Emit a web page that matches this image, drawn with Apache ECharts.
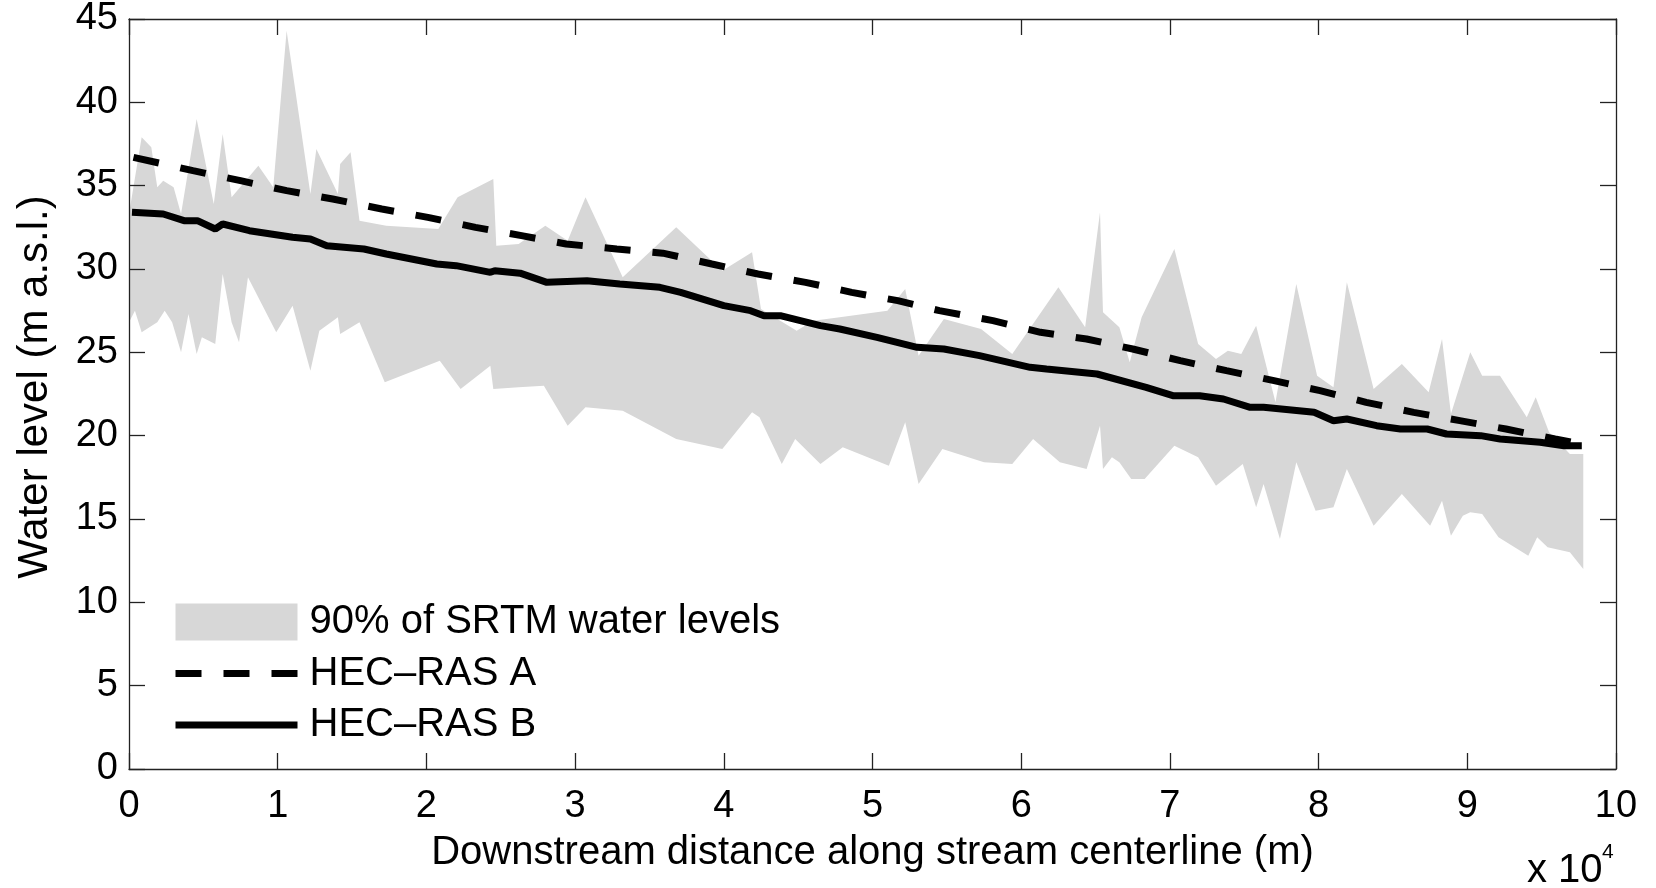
<!DOCTYPE html>
<html><head><meta charset="utf-8">
<script src="https://cdn.jsdelivr.net/npm/echarts@6/dist/echarts.min.js"></script>
<style>html,body{margin:0;padding:0;background:#fff}#c{width:1656px;height:888px}</style>
</head><body><div id="c"></div>
<script>
// distances in metres, water levels in m a.s.l.
const bandUpper = [[0,33.3],[850,37.9],[1500,37.3],[1900,34.9],[2300,35.3],[3000,34.9],[3500,33.3],[4550,39.0],[5700,33.9],[6300,38.1],[6900,34.3],[8700,36.2],[9700,34.9],[10600,44.3],[12200,34.5],[12600,37.2],[14050,34.5],[14200,36.3],[14900,37.0],[15500,32.9],[17300,32.6],[20800,32.4],[22100,34.3],[24500,35.4],[24700,31.4],[26200,31.5],[28000,32.6],[29500,31.7],[30700,34.3],[33200,29.5],[36800,32.5],[39900,29.9],[41900,31.0],[42500,27.6],[44900,26.3],[46000,26.9],[47800,27.1],[51000,27.5],[52200,28.8],[53100,24.8],[54800,27.0],[57300,26.4],[59400,24.9],[62500,28.9],[64300,26.5],[65300,33.4],[65500,27.4],[66600,26.5],[67300,24.4],[68100,27.1],[70300,31.2],[71900,25.5],[73100,24.6],[73900,25.1],[74800,24.9],[75800,26.6],[77100,22.0],[78500,29.1],[79900,23.6],[81000,22.9],[81900,29.2],[83700,22.8],[85600,24.3],[87400,22.6],[88300,25.8],[88900,21.3],[90200,25.0],[91000,23.6],[92200,23.6],[94000,21.1],[94600,22.3],[95500,20.2],[96900,18.9],[97800,18.9]];
const bandLower = [[0,26.8],[400,27.5],[850,26.2],[1900,26.8],[2400,27.5],[2900,26.8],[3500,25.0],[4000,27.3],[4550,24.9],[4900,25.9],[5800,25.5],[6300,29.7],[6900,26.8],[7400,25.6],[8000,29.5],[9900,26.2],[11000,27.8],[12200,23.9],[12800,26.3],[14050,27.1],[14200,26.1],[15500,26.8],[17200,23.2],[20900,24.5],[22300,22.8],[24300,24.2],[24500,22.8],[26200,22.9],[27900,23.0],[29500,20.6],[30700,21.7],[33200,21.5],[36800,19.8],[39900,19.2],[41900,21.4],[42400,21.1],[43900,18.3],[44800,19.8],[46500,18.3],[48000,19.3],[51100,18.2],[52200,20.8],[53100,17.1],[54700,19.2],[57500,18.4],[59400,18.3],[60800,19.8],[62600,18.4],[64400,18.0],[65300,20.6],[65500,18.0],[66100,18.7],[66600,18.4],[67400,17.4],[68300,17.4],[70300,19.4],[71900,18.7],[73100,17.0],[74900,18.3],[75800,15.7],[76300,17.1],[77400,13.8],[78500,18.4],[79800,15.5],[81000,15.7],[81900,18.0],[83700,14.6],[85600,16.5],[87500,14.6],[88300,16.1],[88900,14.0],[89700,15.2],[90200,15.4],[91000,15.3],[92100,13.9],[94100,12.8],[94700,13.9],[95400,13.3],[96900,13.0],[97800,12.0]];
const hecRasA = [[300,36.7],[4300,35.9],[7500,35.3],[10600,34.7],[13700,34.2],[17000,33.6],[20100,33.1],[23300,32.5],[26400,32.0],[29400,31.5],[32800,31.2],[35900,30.95],[39200,30.3],[42300,29.7],[45500,29.2],[48600,28.6],[51700,28.1],[54500,27.5],[58100,26.9],[61300,26.2],[64400,25.8],[67500,25.2],[70700,24.5],[73800,23.9],[77000,23.3],[80100,22.7],[83200,22.0],[86400,21.4],[89500,20.9],[92600,20.4],[95900,19.8],[97700,19.5]];
const hecRasB = [[200,33.4],[2300,33.3],[3700,32.9],[4600,32.9],[5800,32.4],[6300,32.7],[8100,32.3],[11000,31.9],[12200,31.8],[13300,31.4],[15800,31.2],[17300,30.9],[20700,30.3],[22000,30.2],[24300,29.8],[24600,29.9],[26300,29.75],[28100,29.2],[30800,29.3],[33000,29.1],[35700,28.9],[37100,28.6],[40000,27.8],[41800,27.5],[42700,27.2],[43800,27.2],[46500,26.6],[47800,26.4],[50300,25.9],[53000,25.3],[54800,25.2],[57200,24.8],[60600,24.1],[61700,24.0],[65100,23.7],[68400,22.9],[70200,22.4],[72000,22.4],[73600,22.2],[75400,21.7],[76300,21.7],[79700,21.4],[81000,20.9],[81900,21.0],[83900,20.6],[85500,20.4],[87300,20.4],[88600,20.1],[90900,20.0],[92200,19.8],[94900,19.6],[96500,19.4],[97700,19.4]];
const seriesNames = ['90% of SRTM water levels', 'HEC\u2013RAS A', 'HEC\u2013RAS B'];
const xAxisName = 'Downstream distance along stream centerline (m)';
const yAxisName = 'Water level (m a.s.l.)';
const xScaleText = 'x 10';
const xScaleExp = '4';
const xMin = 0, xMax = 100000, xStep = 10000;
const yMin = 0, yMax = 45, yStep = 5;

const FONT = '"Liberation Sans", Arial, Helvetica, sans-serif';
const AX = '#222';
const chart = echarts.init(document.getElementById('c'));

function xAx(pos, main) {
  return {
    type: 'value', position: pos, min: xMin, max: xMax, interval: xStep, z: 5,
    axisLine: {show: true, onZero: false, lineStyle: {color: AX, width: 1.3}},
    axisTick: {show: true, inside: true, length: 16, lineStyle: {color: AX, width: 1.3}},
    axisLabel: {show: main, margin: 19, fontSize: 38, fontFamily: FONT, color: '#000',
      formatter: v => String(v / 10000)},
    splitLine: {show: false},
    name: main ? xAxisName : '', nameLocation: 'middle', nameGap: 64,
    nameTextStyle: {fontSize: 40, fontFamily: FONT, color: '#000'}
  };
}
function yAx(pos, main) {
  return {
    type: 'value', position: pos, min: yMin, max: yMax, interval: yStep, z: 5,
    axisLine: {show: true, onZero: false, lineStyle: {color: AX, width: 1.3}},
    axisTick: {show: true, inside: true, length: 16, lineStyle: {color: AX, width: 1.3}},
    axisLabel: {show: main, margin: 11, fontSize: 38, fontFamily: FONT, color: '#000'},
    splitLine: {show: false},
    name: main ? yAxisName : '', nameLocation: 'middle', nameGap: 73,
    nameTextStyle: {fontSize: 42, fontFamily: FONT, color: '#000', padding: [0, 0, 0, 14]}
  };
}

const hideSym = {opacity: 0, borderWidth: 0};
chart.setOption({
  animation: false,
  backgroundColor: '#fff',
  grid: {left: 129, top: 19, width: 1487, height: 750},
  xAxis: [xAx('bottom', true), xAx('top', false)],
  yAxis: [yAx('left', true), yAx('right', false)],
  legend: {
    orient: 'vertical', left: 172, top: 602, padding: 0,
    itemWidth: 122, itemHeight: 37, itemGap: 11.5, selectedMode: false,
    textStyle: {fontSize: 40, fontFamily: FONT, color: '#000', lineHeight: 37, padding: [0, 0, 0, 7]},
    lineStyle: {width: 7},
    itemStyle: {borderWidth: 0},
    data: [
      {name: seriesNames[0], icon: 'rect'},
      {name: seriesNames[1], itemStyle: hideSym},
      {name: seriesNames[2], itemStyle: hideSym}
    ]
  },
  series: [
    {
      type: 'custom', name: seriesNames[0], xAxisIndex: 0, yAxisIndex: 0, z: 1, silent: true,
      itemStyle: {color: '#d7d7d7'},
      data: [[bandUpper[0][0], bandUpper[0][1]]],
      renderItem: function (params, api) {
        const pts = bandUpper.map(p => api.coord(p))
          .concat(bandLower.slice().reverse().map(p => api.coord(p)));
        return {type: 'polygon', shape: {points: pts}, style: {fill: '#d7d7d7', stroke: null}};
      }
    },
    {
      type: 'line', name: seriesNames[1], data: hecRasA, symbol: 'none', showSymbol: false, z: 3,
      itemStyle: {color: '#000'},
      lineStyle: {color: '#000', width: 7, type: [26, 22]}
    },
    {
      type: 'line', name: seriesNames[2], data: hecRasB, symbol: 'none', showSymbol: false, z: 3,
      itemStyle: {color: '#000'},
      lineStyle: {color: '#000', width: 7, type: 'solid'}
    }
  ],
  graphic: [
    {type: 'text', left: 1527, top: 851, style: {text: xScaleText, fontSize: 40, fontFamily: FONT, fill: '#000'}},
    {type: 'text', left: 1602, top: 842, style: {text: xScaleExp, fontSize: 21, fontFamily: FONT, fill: '#000'}}
  ]
});
</script>
</body></html>
